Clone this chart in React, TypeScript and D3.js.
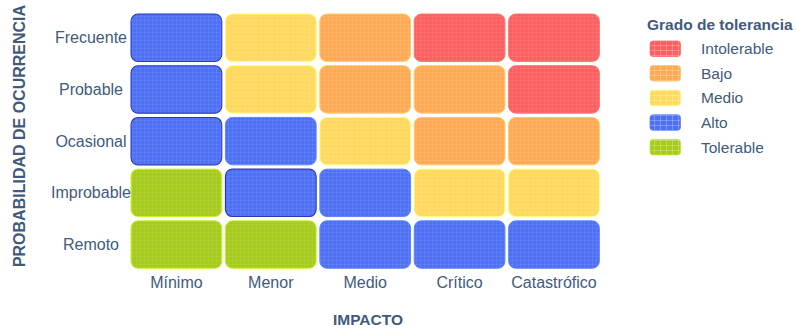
import React from "react";
import * as d3 from "d3";

const impacts = ["Mínimo", "Menor", "Medio", "Crítico", "Catastrófico"];
const probabilities = ["Frecuente", "Probable", "Ocasional", "Improbable", "Remoto"];
const levels = ["Intolerable", "Bajo", "Medio", "Alto", "Tolerable"];
const levelColors = ["#ff5e5e", "#ffa954", "#ffd85e", "#4d70f4", "#a6cb1c"];
// rows follow probabilities, columns follow impacts
const matrix = [
  ["Alto", "Medio", "Bajo", "Intolerable", "Intolerable"],
  ["Alto", "Medio", "Bajo", "Bajo", "Intolerable"],
  ["Alto", "Alto", "Medio", "Bajo", "Bajo"],
  ["Tolerable", "Alto", "Alto", "Medio", "Medio"],
  ["Tolerable", "Tolerable", "Alto", "Alto", "Alto"],
];
const highlighted = [
  ["Frecuente", "Mínimo"],
  ["Probable", "Mínimo"],
  ["Ocasional", "Mínimo"],
  ["Improbable", "Menor"],
];

const W = 798;
const H = 328;
const TEXT = "#3f5a7d";
const FONT = "'Liberation Sans', Arial, sans-serif";

export default function App() {
  const x = d3.scaleBand<string>().domain(impacts).range([129.2, 601.2]).paddingInner(0.039).paddingOuter(0.0195);
  const y = d3.scaleBand<string>().domain(probabilities).range([11.9, 270.4]).paddingInner(0.083).paddingOuter(0.0415);
  const color = d3.scaleOrdinal<string, string>().domain(levels).range(levelColors);
  const idx = d3.scaleOrdinal<string, number>().domain(levels).range(levels.map((_, i) => i));
  const isHi = (p: string, i: string) => highlighted.some(([a, b]) => a === p && b === i);
  const legendY = d3.scaleBand<string>().domain(levels).range([38.5, 161.5]);

  const cells = probabilities.flatMap((p, r) =>
    impacts.map((imp, c) => ({ p, imp, level: matrix[r][c] }))
  );

  return (
    <svg width={W} height={H} style={{ position: "absolute", left: 0, top: 0, background: "#fff" }} fontFamily={FONT}>
      <defs>
        {levels.map((l, i) => (
          <pattern key={"p" + i} id={"pat" + i} width={4} height={4} patternUnits="userSpaceOnUse">
            <rect width={4} height={4} fill={levelColors[i]} />
            <rect width={4} height={1} fill="#ffffff" opacity={0.08} />
            <rect width={1} height={4} fill="#ffffff" opacity={0.08} />
          </pattern>
        ))}
        {levels.map((l, i) => (
          <pattern key={"lp" + i} id={"lpat" + i} width={6} height={5} patternUnits="userSpaceOnUse">
            <rect width={6} height={5} fill={levelColors[i]} />
            <rect width={6} height={1} fill="#ffffff" opacity={0.25} />
            <rect width={1} height={5} fill="#ffffff" opacity={0.25} />
          </pattern>
        ))}
      </defs>

      {cells.map((d) => {
        const hi = isHi(d.p, d.imp);
        return (
          <rect
            key={d.p + d.imp}
            x={x(d.imp)!}
            y={y(d.p)!}
            width={x.bandwidth()}
            height={y.bandwidth()}
            rx={7}
            ry={7}
            fill={`url(#pat${idx(d.level)})`}
            stroke={hi ? "#2838c0" : d3.color(color(d.level))!.brighter(0.5).formatHex()}
            strokeWidth={hi ? 1.1 : 1}
          />
        );
      })}

      {probabilities.map((p) => (
        <text key={p} x={91} y={y(p)! + y.bandwidth() / 2} dy="0.35em" textAnchor="middle" fontSize={16} fill={TEXT}>
          {p}
        </text>
      ))}
      {impacts.map((i) => (
        <text key={i} x={x(i)! + x.bandwidth() / 2} y={288} textAnchor="middle" fontSize={16} fill={TEXT}>
          {i}
        </text>
      ))}

      <text x={368} y={325} textAnchor="middle" fontSize={15.5} fontWeight="bold" fill={TEXT}>
        IMPACTO
      </text>
      <text
        transform={`translate(25,136) rotate(-90)`}
        textAnchor="middle"
        fontSize={16}
        fontWeight="bold"
        fill={TEXT}
      >
        PROBABILIDAD DE OCURRENCIA
      </text>

      <text x={647} y={30} fontSize={15.5} fontWeight="bold" fill={TEXT}>
        Grado de tolerancia
      </text>
      {levels.map((l, i) => (
        <g key={l}>
          <rect
            x={650}
            y={legendY(l)! + 2.5}
            width={30.5}
            height={15.5}
            rx={3}
            fill={`url(#lpat${i})`}
            stroke={d3.color(levelColors[i])!.brighter(0.4).formatHex()}
            strokeWidth={0.8}
          />
          <text x={701} y={legendY(l)! + 10.3} dy="0.35em" fontSize={15.5} fill={TEXT}>
            {l}
          </text>
        </g>
      ))}
    </svg>
  );
}
